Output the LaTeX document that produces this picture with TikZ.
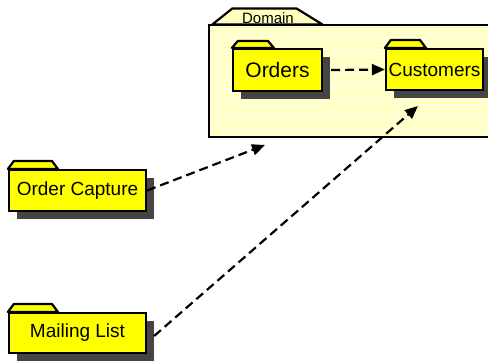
\documentclass[tikz,border=0pt]{standalone}
\usepackage{fontspec}
\setmainfont{Liberation Sans}
\usetikzlibrary{arrows.meta,shadows,patterns.meta}

\definecolor{pkgyellow}{RGB}{255,255,0}
\definecolor{paleyellow}{RGB}{255,255,190}
\definecolor{shadowgray}{RGB}{68,68,68}

% tab on top of a package: node, tab width, tab height
\newcommand{\pkgtab}[3]{%
  \draw[line width=2.2pt, fill=pkgyellow, line join=round] (#1.north west) -- ++(6,-#3) -- ++(#2-12,0) -- ++(6,#3) -- cycle;}

\begin{document}
\begin{tikzpicture}[x=1pt, y=-1pt,
    pkg/.style={draw, line width=2.2pt, fill=pkgyellow, inner sep=0pt,
      font=\fontsize{19}{22}\selectfont,
      drop shadow={shadow xshift=8pt, shadow yshift=-8pt, fill=shadowgray, opacity=1}},
    dep/.style={line width=2.2pt, dash pattern=on 9pt off 5pt, -{Triangle[length=13pt,width=11pt]}}]
        \useasboundingbox (0,0) rectangle (488,360);

        % Domain package.
        \node[draw, line width=2.4pt, minimum width=284pt, minimum height=112pt,
          preaction={fill=paleyellow}, pattern={Lines[angle=0,distance=4pt,line width=1.2pt]}, pattern color=white]
          (domain) at (351,81) {};
        \draw[line width=2.2pt, fill=paleyellow, line join=round] ([xshift=4pt]domain.north west) -- ++(20,-16) coordinate (dtl)
          -- ++(64,0) -- ++(26,16) -- cycle;
        \node[font=\fontsize{15}{17}\selectfont, inner sep=0pt] (domainlbl) at (268,18) {Domain};

        % Packages.
        \node[pkg, minimum width=89pt, minimum height=42pt] (orders) at (277.5,70) {\fontsize{21}{23}\selectfont Orders};
        \pkgtab{orders}{42}{7}
        \node[pkg, minimum width=97pt, minimum height=41pt] (customers) at (434.5,69.5) {Customers};
        \pkgtab{customers}{41}{8}
        \node[pkg, minimum width=137pt, minimum height=41pt] (ordercap) at (77.5,190.5) {Order Capture};
        \pkgtab{ordercap}{50}{8}
        \node[pkg, minimum width=137pt, minimum height=40pt] (mailing) at (77.5,333) {Mailing List};
        \pkgtab{mailing}{50}{8}

        % Dependencies.
        \coordinate (domtip) at (265,145);
        \coordinate (custtip) at (418,106);
        \draw[dep] ([xshift=8pt]orders.east) -- (customers.west);
        \draw[dep] (ordercap.east) -- (domtip);
        \draw[dep] ([xshift=7pt,yshift=-3pt]mailing.east) -- (custtip);

    \end{tikzpicture}
\end{document}
